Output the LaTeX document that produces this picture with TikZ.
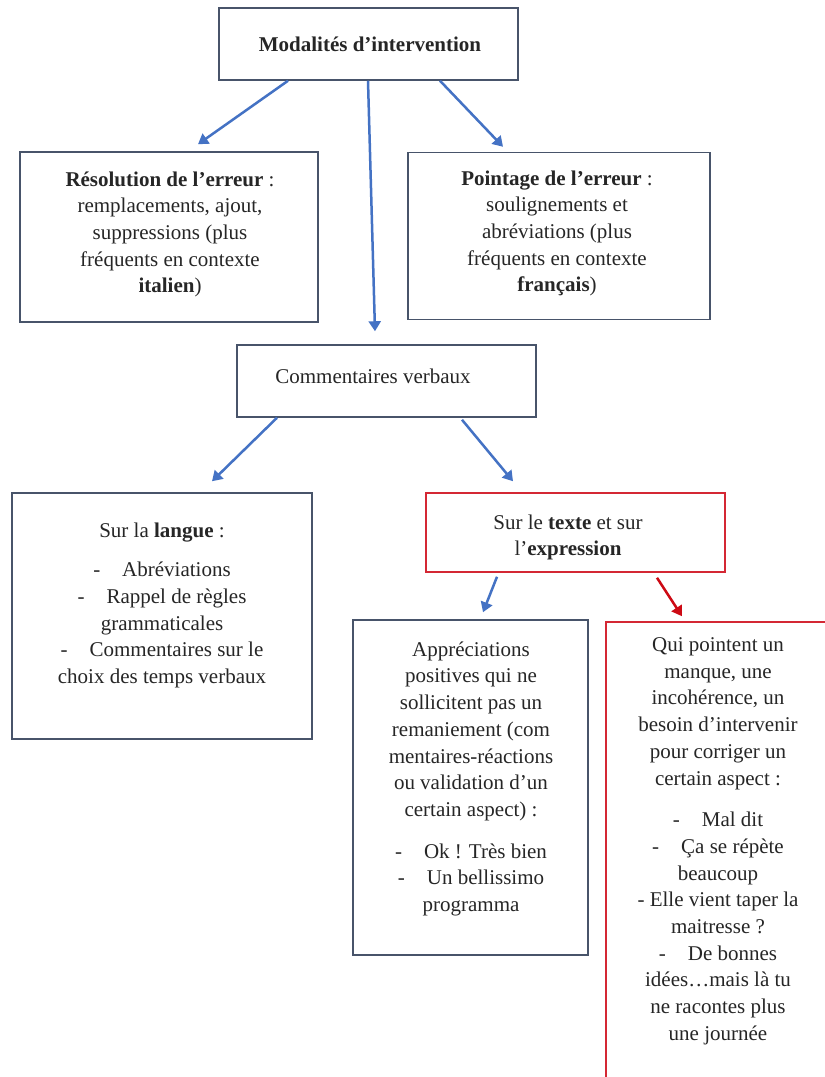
\documentclass[tikz,border=0pt]{standalone}
\usepackage{fontspec}
\setmainfont{Liberation Serif}
\usetikzlibrary{arrows.meta}
\definecolor{boxc}{RGB}{72,84,106}
\definecolor{arrc}{RGB}{68,114,196}
\definecolor{redbox}{RGB}{212,40,52}
\definecolor{redarr}{RGB}{205,10,20}
\tikzset{
  box/.style={draw=boxc, line width=1.5pt, rectangle, inner sep=0pt},
  rbox/.style={draw=redbox, line width=1.5pt, rectangle, inner sep=0pt},
  txt/.style={align=center, anchor=north, inner sep=0pt, font=\fontsize{21}{26.7}\selectfont, text=black!85},
  arr/.style={draw=arrc, line width=2.5pt, -{Triangle[length=10pt,width=12pt]}},
  rarr/.style={draw=redarr, line width=2.5pt, -{Triangle[length=10pt,width=12pt]}}
}
\begin{document}
\begin{tikzpicture}[x=1pt,y=-1pt]
\useasboundingbox (0,0) rectangle (825,1077);
\fill[white] (0,0) rectangle (825,1077);
\clip (0,0) rectangle (825,1077);
% boxes
\node[box, minimum width=299pt, minimum height=72pt] (top) at (368.5,44) {};
\node[box, minimum width=298pt, minimum height=170pt] (res) at (169,237) {};
\node[box, minimum width=302pt, minimum height=167pt] (poi) at (559,236) {};
\node[box, minimum width=299pt, minimum height=72pt] (com) at (386.5,381) {};
\node[box, minimum width=300pt, minimum height=246pt] (lan) at (162,616) {};
\node[rbox, minimum width=299pt, minimum height=79pt] (tex) at (575.5,532.5) {};
\node[box, minimum width=235pt, minimum height=335pt] (app) at (470.5,787.5) {};
\node[rbox, minimum width=224pt, minimum height=478pt] (red) at (718,861) {};
% texts
\node[txt] (tTop) at (370,36.4) {\textbf{Modalités d’intervention}};
\node[txt] (tRes) at (170,171.4) {\textbf{Résolution de l’erreur} :\\remplacements, ajout,\\suppressions (plus\\fréquents en contexte\\\textbf{italien})};
\node[txt] (tPoi) at (557,170.4) {\textbf{Pointage de l’erreur} :\\soulignements et\\abréviations (plus\\fréquents en contexte\\\textbf{français})};
\node[txt] (tCom) at (373,368.4) {Commentaires verbaux};
\node[txt] (tLan) at (162,522.4) {Sur la \textbf{langue} :\\[13pt]-\hspace{22pt}Abréviations\\-\hspace{22pt}Rappel de règles\\grammaticales\\-\hspace{22pt}Commentaires sur le\\choix des temps verbaux};
\node[txt] (tTex) at (568,514.4) {Sur le \textbf{texte} et sur\\l’\textbf{expression}};
\node[txt] (tApp) at (471,641.4) {Appréciations\\positives qui ne\\sollicitent pas un\\remaniement (com\\mentaires-réactions\\ou validation d’un\\certain aspect) :\\[15pt]-\hspace{22pt}Ok ! Très bien\\-\hspace{22pt}Un bellissimo\\programma};
\node[txt] (tRed) at (718,637.4) {Qui pointent un\\manque, une\\incohérence, un\\besoin d’intervenir\\pour corriger un\\certain aspect :\\[15pt]-\hspace{22pt}Mal dit\\-\hspace{22pt}Ça se répète\\beaucoup\\- Elle vient taper la\\maitresse ?\\-\hspace{22pt}De bonnes\\idées…mais là tu\\ne racontes plus\\une journée};
% arrows
\draw[arr] ([xshift=-80.5pt]top.south) -- ([xshift=29pt,yshift=7pt]res.north);
\draw[arr] ([xshift=-0.5pt]top.south) -- ([xshift=-11.5pt,yshift=13pt]com.north);
\draw[arr] ([xshift=71.5pt]top.south) -- ([xshift=-56pt,yshift=5pt]poi.north);
\draw[arr] ([xshift=-109.5pt]com.south) -- ([xshift=50pt,yshift=11pt]lan.north);
\draw[arr] ([xshift=75.5pt,yshift=-2pt]com.south) -- ([xshift=-62.5pt,yshift=11pt]tex.north);
\draw[arr] ([xshift=-78.5pt,yshift=-4pt]tex.south) -- ([xshift=12.5pt,yshift=7pt]app.north);
\draw[rarr] ([xshift=81.5pt,yshift=-5pt]tex.south) -- ([xshift=-36pt,yshift=5pt]red.north);
\end{tikzpicture}
\end{document}
